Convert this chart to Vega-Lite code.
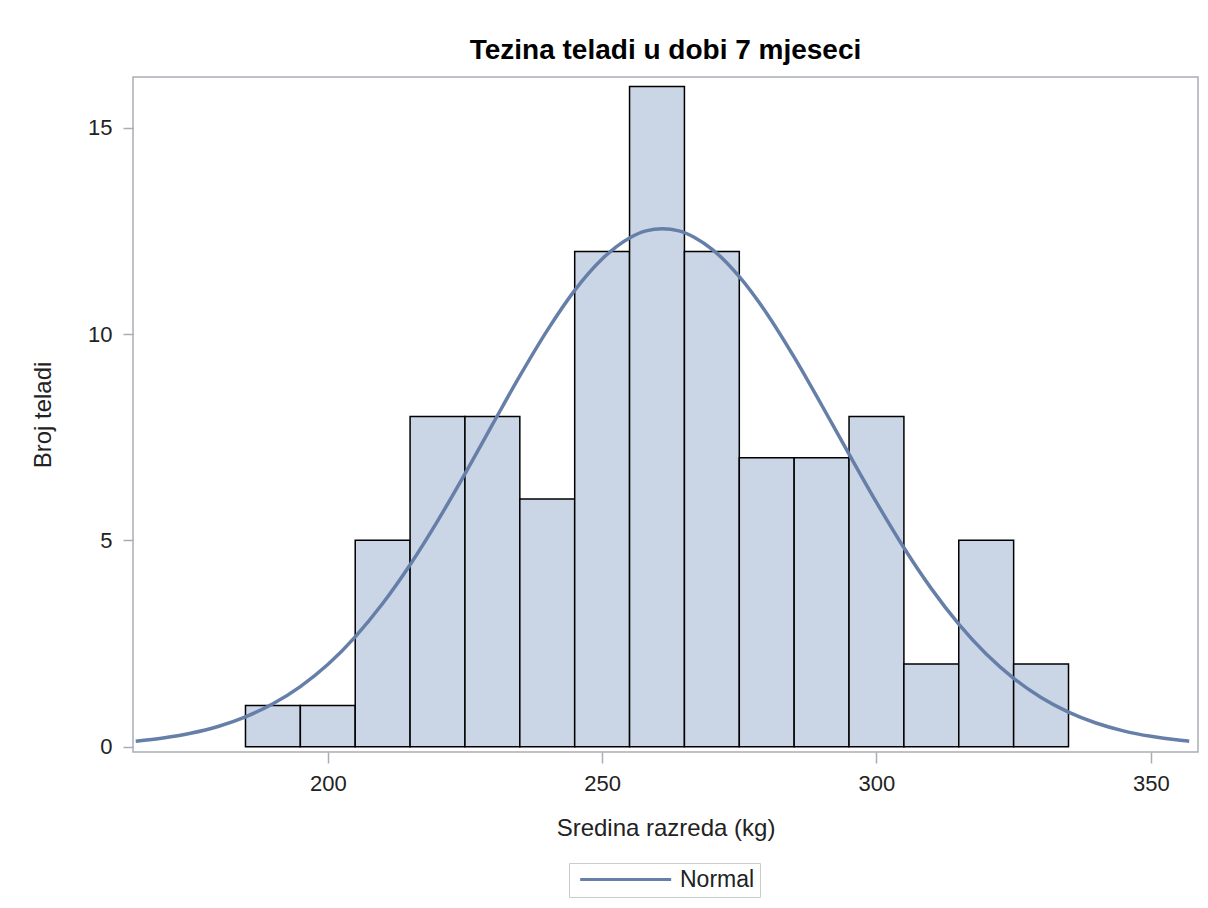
{
  "$schema": "https://vega.github.io/schema/vega-lite/v6.json",
  "width": 1065,
  "height": 675,
  "autosize": {"type": "none"},
  "padding": {"left": 133, "top": 77, "right": 10, "bottom": 156},
  "background": "white",
  "title": {
    "text": "Tezina teladi u dobi 7 mjeseci",
    "font": "Liberation Sans",
    "fontSize": 28,
    "fontWeight": "bold",
    "color": "#000000",
    "anchor": "middle",
    "frame": "group",
    "baseline": "alphabetic",
    "offset": -10
  },
  "datasets": {
    "bins": [
      {"start": 185, "end": 195, "count": 1},
      {"start": 195, "end": 205, "count": 1},
      {"start": 205, "end": 215, "count": 5},
      {"start": 215, "end": 225, "count": 8},
      {"start": 225, "end": 235, "count": 8},
      {"start": 235, "end": 245, "count": 6},
      {"start": 245, "end": 255, "count": 12},
      {"start": 255, "end": 265, "count": 16},
      {"start": 265, "end": 275, "count": 12},
      {"start": 275, "end": 285, "count": 7},
      {"start": 285, "end": 295, "count": 7},
      {"start": 295, "end": 305, "count": 8},
      {"start": 305, "end": 315, "count": 2},
      {"start": 315, "end": 325, "count": 5},
      {"start": 325, "end": 335, "count": 2}
    ],
    "curve": [
      {"x": 165, "y": 0.132, "series": "Normal"},
      {"x": 170, "y": 0.209, "series": "Normal"},
      {"x": 175, "y": 0.324, "series": "Normal"},
      {"x": 180, "y": 0.489, "series": "Normal"},
      {"x": 185, "y": 0.722, "series": "Normal"},
      {"x": 190, "y": 1.038, "series": "Normal"},
      {"x": 195, "y": 1.456, "series": "Normal"},
      {"x": 200, "y": 1.99, "series": "Normal"},
      {"x": 205, "y": 2.662, "series": "Normal"},
      {"x": 210, "y": 3.469, "series": "Normal"},
      {"x": 215, "y": 4.409, "series": "Normal"},
      {"x": 220, "y": 5.467, "series": "Normal"},
      {"x": 225, "y": 6.613, "series": "Normal"},
      {"x": 230, "y": 7.804, "series": "Normal"},
      {"x": 235, "y": 8.985, "series": "Normal"},
      {"x": 240, "y": 10.09, "series": "Normal"},
      {"x": 245, "y": 11.06, "series": "Normal"},
      {"x": 250, "y": 11.82, "series": "Normal"},
      {"x": 255, "y": 12.33, "series": "Normal"},
      {"x": 258, "y": 12.5, "series": "Normal"},
      {"x": 261, "y": 12.55, "series": "Normal"},
      {"x": 264, "y": 12.5, "series": "Normal"},
      {"x": 267, "y": 12.33, "series": "Normal"},
      {"x": 270, "y": 12.06, "series": "Normal"},
      {"x": 275, "y": 11.39, "series": "Normal"},
      {"x": 280, "y": 10.5, "series": "Normal"},
      {"x": 285, "y": 9.44, "series": "Normal"},
      {"x": 290, "y": 8.28, "series": "Normal"},
      {"x": 295, "y": 7.09, "series": "Normal"},
      {"x": 300, "y": 5.92, "series": "Normal"},
      {"x": 305, "y": 4.82, "series": "Normal"},
      {"x": 310, "y": 3.83, "series": "Normal"},
      {"x": 315, "y": 2.97, "series": "Normal"},
      {"x": 320, "y": 2.245, "series": "Normal"},
      {"x": 325, "y": 1.657, "series": "Normal"},
      {"x": 330, "y": 1.192, "series": "Normal"},
      {"x": 335, "y": 0.837, "series": "Normal"},
      {"x": 340, "y": 0.573, "series": "Normal"},
      {"x": 345, "y": 0.383, "series": "Normal"},
      {"x": 350, "y": 0.25, "series": "Normal"},
      {"x": 355, "y": 0.159, "series": "Normal"},
      {"x": 357, "y": 0.132, "series": "Normal"}
    ]
  },
  "layer": [
    {
      "data": {"name": "bins"},
      "mark": {"type": "rect", "fill": "#CAD5E5", "stroke": "#000000", "strokeWidth": 1.5},
      "encoding": {
        "x": {
          "field": "start",
          "type": "quantitative",
          "scale": {"domain": [164.5, 358.6], "nice": false, "zero": false},
          "axis": {
            "title": "Sredina razreda (kg)",
            "values": [200, 250, 300, 350],
            "grid": false,
            "domain": false,
            "tickSize": 11,
            "labelPadding": 10,
            "titlePadding": 22
          }
        },
        "x2": {"field": "end"},
        "y": {
          "field": "count",
          "type": "quantitative",
          "scale": {"domain": [-0.13, 16.23], "nice": false, "zero": false},
          "axis": {
            "title": "Broj teladi",
            "values": [0, 5, 10, 15],
            "grid": false,
            "domain": false,
            "tickSize": 10,
            "labelPadding": 11,
            "titlePadding": 32
          }
        },
        "y2": {"datum": 0}
      }
    },
    {
      "data": {"name": "curve"},
      "mark": {"type": "line", "strokeWidth": 3.5, "interpolate": "monotone"},
      "encoding": {
        "x": {"field": "x", "type": "quantitative"},
        "y": {"field": "y", "type": "quantitative"},
        "color": {
          "field": "series",
          "type": "nominal",
          "scale": {"domain": ["Normal"], "range": ["#667FA8"]},
          "legend": {
            "title": null,
            "orient": "none",
            "legendX": 436,
            "legendY": 786,
            "symbolType": "M-0.7,0H11.3",
            "symbolSize": 230,
            "symbolStrokeWidth": 3,
            "symbolFillColor": "transparent",
            "labelOffset": 83,
            "labelFontSize": 23,
            "labelFont": "Liberation Sans",
            "labelColor": "#222222",
            "strokeColor": "#CCCCCC",
            "padding": 5
          }
        }
      }
    }
  ],
  "config": {
    "view": {"stroke": "#A9ADB2", "strokeWidth": 1.5},
    "axis": {
      "labelFont": "Liberation Sans",
      "titleFont": "Liberation Sans",
      "labelFontSize": 22,
      "titleFontSize": 24,
      "titleFontWeight": "normal",
      "labelColor": "#222222",
      "titleColor": "#222222",
      "tickColor": "#A9ADB2",
      "tickWidth": 1.5
    }
  }
}
